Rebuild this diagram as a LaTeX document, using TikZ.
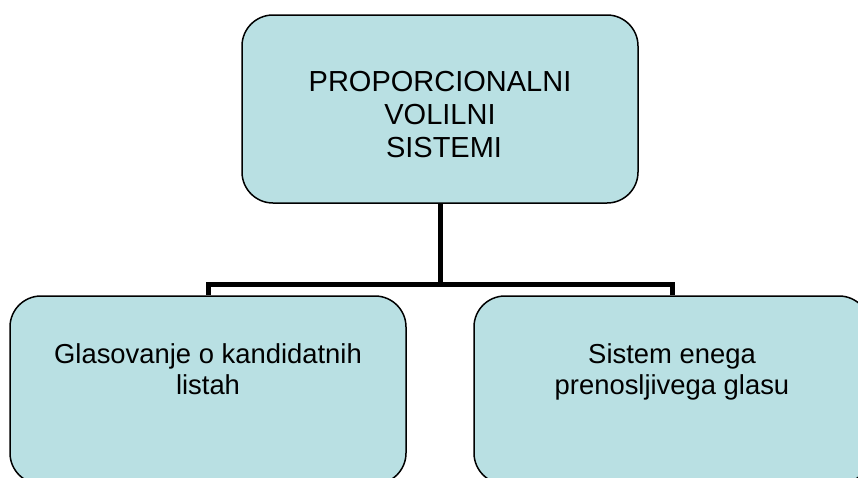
\documentclass[tikz,border=0pt]{standalone}
\usepackage{fontspec}
\setmainfont{Liberation Sans}
\usetikzlibrary{positioning}
\definecolor{boxblue}{RGB}{185,224,227}
\tikzset{
  box/.style={draw=black,line width=1.5pt,fill=boxblue,rounded corners=31pt,
    minimum width=396pt,minimum height=188pt,inner sep=0pt},
  txt/.style={align=center,inner sep=0pt,font=\fontsize{27.4}{31.5}\selectfont},
  bar/.style={line width=5pt}
}
\begin{document}
\begin{tikzpicture}[x=1pt,y=-1pt]
      \clip (0,0) rectangle (858,477);
      \node[box] (1) at (440,109) {};
      \node[box] (2) at (208,390) {};
      \node[box] (3) at (672,390) {};

      \node[txt,font=\fontsize{29}{33}\selectfont,below=57pt of 1.north] (4) {PROPORCIONALNI\\VOLILNI\\\hspace*{0.278em}SISTEMI};
      \node[txt,below=48pt of 2.north] (5) {Glasovanje o kandidatnih\\listah};
      \node[txt,below=48pt of 3.north] (6) {Sistem enega\\prenosljivega glasu};

      \draw[bar] (1.south) -- ++(0,80.5) -| (2.north);
      \draw[bar] (1.south) -- ++(0,80.5) -| (3.north);
    \end{tikzpicture}
\end{document}
